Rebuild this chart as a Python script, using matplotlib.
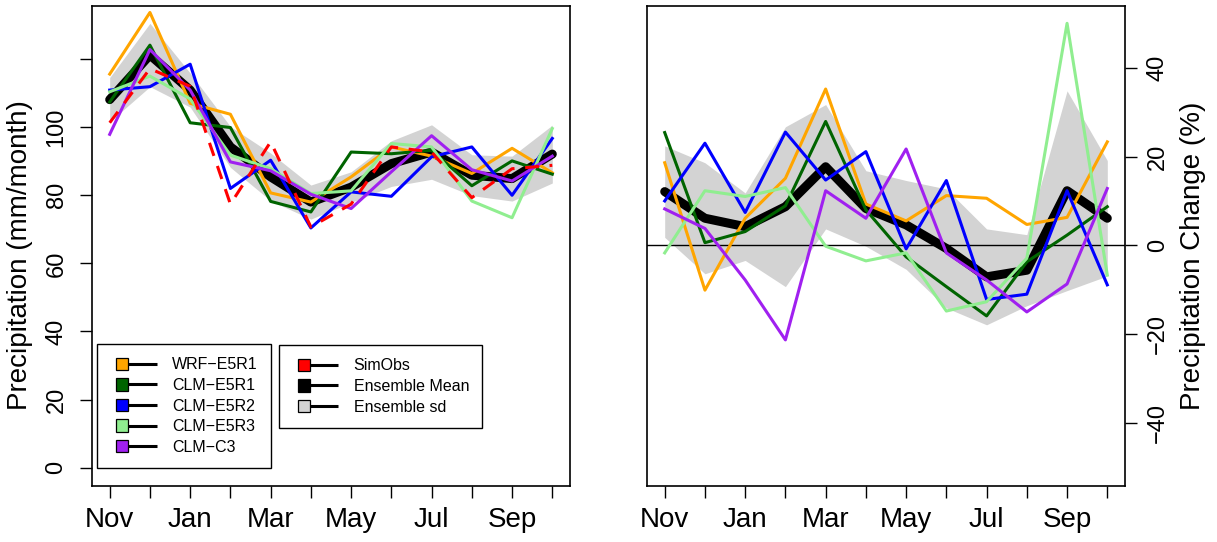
import numpy as np
import matplotlib
matplotlib.use("Agg")
import matplotlib.pyplot as plt
from matplotlib.patches import Patch, Rectangle
from matplotlib.lines import Line2D
from matplotlib.legend_handler import HandlerBase

plt.rcParams['font.family'] = ['Liberation Sans', 'DejaVu Sans']

months = ['Nov', 'Dec', 'Jan', 'Feb', 'Mar', 'Apr', 'May', 'Jun', 'Jul', 'Aug', 'Sep', 'Oct']
month_labels = ['Nov', '', 'Jan', '', 'Mar', '', 'May', '', 'Jul', '', 'Sep', '']

# monthly precipitation (mm/month)
pr_wrf_e5r1 = [115.6, 133.7, 107.0, 103.8, 80.7, 78.0, 85.4, 94.2, 91.5, 86.4, 93.8, 86.6]
pr_clm_e5r1 = [107.4, 124.1, 101.3, 99.9, 78.2, 75.1, 92.7, 92.2, 93.2, 82.8, 90.1, 86.2]
pr_clm_e5r2 = [110.9, 111.9, 118.5, 82.0, 90.3, 70.4, 81.0, 79.7, 91.3, 94.2, 80.0, 96.7]
pr_clm_e5r3 = [110.4, 115.0, 108.3, 91.8, 87.8, 80.5, 81.3, 95.2, 94.2, 78.3, 73.4, 99.6]
pr_clm_c3 = [97.9, 122.8, 110.9, 89.8, 87.2, 80.3, 76.1, 86.9, 97.5, 87.5, 84.2, 91.5]
pr_simobs = [101.3, 117.2, 112.0, 77.4, 95.7, 70.7, 77.4, 94.2, 92.7, 79.3, 87.8, 88.8]
pr_ens_mean = [108.1, 121.2, 110.9, 94.2, 85.4, 78.0, 82.4, 89.3, 92.7, 85.9, 84.9, 92.1]
pr_ens_sd = [6.5, 9.3, 5.0, 6.0, 7.0, 5.0, 4.5, 6.7, 8.0, 6.0, 6.6, 8.5]

# precipitation change (%)
ch_wrf_e5r1 = [18.6, -10.1, 6.1, 15.1, 35.2, 9.3, 5.5, 11.2, 10.6, 4.7, 6.3, 23.3]
ch_clm_e5r1 = [25.4, 0.6, 3.1, 8.9, 27.9, 8.0, -2.6, -9.3, -15.9, -3.7, 2.3, 8.7]
ch_clm_e5r2 = [10.0, 23.0, 7.4, 25.5, 14.7, 21.1, -0.8, 14.6, -12.2, -11.0, 12.3, -8.9]
ch_clm_e5r3 = [-1.7, 12.3, 11.0, 13.0, -0.2, -3.5, -1.7, -14.8, -12.7, -2.9, 50.0, -6.7]
ch_clm_c3 = [8.2, 3.8, -7.8, -21.3, 12.3, 6.1, 21.7, -1.7, -7.8, -15.0, -8.7, 12.8]
ch_ens_mean = [12.1, 6.1, 4.2, 8.7, 17.7, 8.3, 4.6, -0.7, -7.1, -5.6, 12.3, 6.1]
ch_ens_sd = [10.3, 12.5, 7.6, 18.0, 14.0, 8.5, 10.0, 13.4, 10.8, 8.0, 22.5, 13.0]

model_names = ['WRF\u2212E5R1', 'CLM\u2212E5R1', 'CLM\u2212E5R2', 'CLM\u2212E5R3', 'CLM\u2212C3']
model_cols = ['#FFA500', '#006400', '#0000FF', '#90EE90', '#A020F0']


class SquareLine(HandlerBase):
    # filled square at the left end of a short black line
    def create_artists(self, legend, orig_handle, xdescent, ydescent,
                       width, height, fontsize, trans):
        s = 0.78 * fontsize
        x0 = -xdescent + 0.12 * width
        yc = -ydescent + height / 2
        ln = Line2D([x0 + s / 2, -xdescent + width], [yc, yc], color='black', lw=2.2,
                    solid_capstyle='butt')
        sq = Rectangle((x0, yc - s / 2), s, s, facecolor=orig_handle.get_facecolor(),
                       edgecolor='black', lw=0.9)
        ln.set_transform(trans)
        sq.set_transform(trans)
        return [ln, sq]


def style_axes(ax):
    ax.set_xlim(0.56, 12.44)
    ax.set_xticks(np.arange(1, 13))
    ax.set_xticklabels(month_labels, fontsize=20)
    ax.tick_params(axis='x', length=8.6, width=1.0, pad=6.5)
    for sp in ax.spines.values():
        sp.set_linewidth(1.2)


def add_legend(ax, handles, labels, anchor):
    leg = ax.legend(handles, labels, handler_map={Patch: SquareLine()},
                    loc='lower left', bbox_to_anchor=anchor, borderaxespad=0,
                    fontsize=11.5, handlelength=2.9, handletextpad=0.95, labelspacing=0.35,
                    borderpad=0.83, fancybox=False, edgecolor='black', framealpha=1)
    leg.get_frame().set_linewidth(1.0)
    return leg


fig = plt.figure(figsize=(12.17, 5.42), dpi=100)
ax1 = fig.add_axes([92 / 1217, 1 - 486 / 542, 478 / 1217, 480 / 542])
ax2 = fig.add_axes([647 / 1217, 1 - 486 / 542, 478 / 1217, 480 / 542])

x = np.arange(1, 13)

# left: absolute precipitation
m = np.array(pr_ens_mean)
s = np.array(pr_ens_sd)
ax1.fill_between(x, m - s, m + s, color='#D3D3D3', lw=0)
ax1.plot(x, m, color='black', lw=6.5, solid_capstyle='round', solid_joinstyle='round')
for vals, col in zip([pr_wrf_e5r1, pr_clm_e5r1, pr_clm_e5r2, pr_clm_e5r3, pr_clm_c3], model_cols):
    ax1.plot(x, vals, color=col, lw=2.2)
ax1.plot(x, pr_simobs, color='#FF0000', lw=2.2, dashes=(4.5, 3.5))
ax1.set_ylim(-5.4, 135.6)
ax1.set_yticks([0, 20, 40, 60, 80, 100, 120])
ax1.set_yticklabels(['0', '20', '40', '60', '80', '100', ''], rotation=90, va='center', fontsize=17)
ax1.tick_params(axis='y', length=8.6, width=1.0, pad=9)
style_axes(ax1)
ax1.text(-0.151, 0.158, 'Precipitation (mm/month)', transform=ax1.transAxes,
         rotation=90, ha='center', va='bottom', fontsize=20)

leg1 = add_legend(ax1, [Patch(facecolor=c) for c in model_cols], model_names,
                  (0.0105, 0.0375))
ax1.add_artist(leg1)
add_legend(ax1, [Patch(facecolor=c) for c in ['#FF0000', '#000000', '#D3D3D3']],
           ['SimObs', 'Ensemble Mean', 'Ensemble sd'], (0.391, 0.121))

# right: relative change
m = np.array(ch_ens_mean)
s = np.array(ch_ens_sd)
ax2.fill_between(x, m - s, m + s, color='#D3D3D3', lw=0)
ax2.axhline(0, color='black', lw=1.0)
ax2.plot(x, m, color='black', lw=6.5, solid_capstyle='round', solid_joinstyle='round')
for vals, col in zip([ch_wrf_e5r1, ch_clm_e5r1, ch_clm_e5r2, ch_clm_e5r3, ch_clm_c3], model_cols):
    ax2.plot(x, vals, color=col, lw=2.2)
ax2.set_ylim(-54.2, 53.9)
ax2.yaxis.tick_right()
ax2.set_yticks([-40, -20, 0, 20, 40])
ax2.set_yticklabels(['\u221240', '\u221220', '0', '20', '40'], rotation=90, va='center', fontsize=17)
ax2.tick_params(axis='y', length=8.6, width=1.0, pad=7)
style_axes(ax2)
ax2.text(1.142, 0.158, 'Precipitation Change (%)', transform=ax2.transAxes,
         rotation=90, ha='center', va='bottom', fontsize=20)

fig.savefig('out.png', dpi=100)
